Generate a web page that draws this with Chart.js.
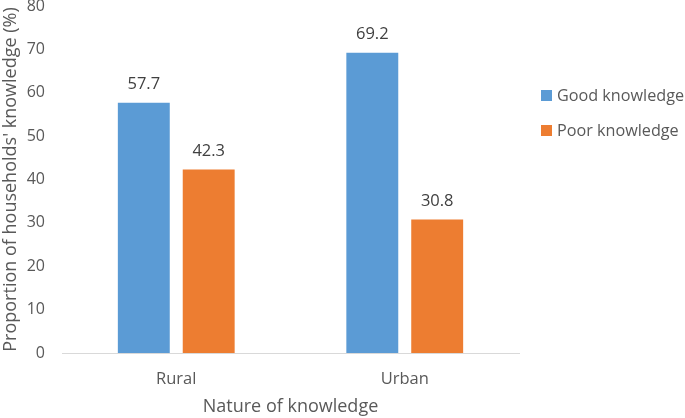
<!DOCTYPE html>
<html>
<head>
<meta charset="utf-8">
<script src="https://cdn.jsdelivr.net/npm/chart.js@4/dist/chart.umd.min.js"></script>
<style>
  body { margin: 0; background: #fff; }
  #wrap { position: relative; width: 685px; height: 418px; }
  #legend { position: absolute; left: 541px; top: 84px; font-family: "Open Sans", sans-serif; font-size: 16.2px; color: #595959; white-space: nowrap; }
  .item { display: flex; align-items: center; height: 22px; margin-bottom: 13px; }
  .box { width: 11px; height: 11px; margin-right: 5px; }
</style>
</head>
<body>
<div id="wrap">
  <canvas id="knowledgeChart" width="685" height="418"></canvas>
  <div id="legend"></div>
</div>
<script>
const categories = ['Rural', 'Urban'];
const goodKnowledge = [57.7, 69.2];
const poorKnowledge = [42.3, 30.8];
const seriesNames = ['Good knowledge', 'Poor knowledge'];
const seriesColors = ['#5B9BD5', '#ED7D31'];

// draws the value above each bar
const valueLabels = {
    id: 'valueLabels',
    afterDatasetsDraw(chart) {
        const ctx = chart.ctx;
        ctx.save();
        ctx.font = '16.5px "Open Sans", sans-serif';
        ctx.fillStyle = '#404040';
        ctx.textAlign = 'center';
        ctx.textBaseline = 'bottom';
        chart.data.datasets.forEach((ds, i) => {
            chart.getDatasetMeta(i).data.forEach((bar, j) => {
                ctx.fillText(ds.data[j].toFixed(1), bar.x, bar.y - 10);
            });
        });
        ctx.restore();
    }
};

const ctx = document.getElementById('knowledgeChart').getContext('2d');
const knowledgeChart = new Chart(ctx, {
    type: 'bar',
    data: {
        labels: categories,
        datasets: [
            { label: seriesNames[0], data: goodKnowledge, backgroundColor: seriesColors[0] },
            { label: seriesNames[1], data: poorKnowledge, backgroundColor: seriesColors[1] }
        ]
    },
    options: {
        responsive: false,
        animation: false,
        categoryPercentage: 0.568,
        barPercentage: 0.8,
        layout: { padding: { left: 0, right: 166, top: 0, bottom: 0 } },
        plugins: {
            legend: { display: false },
            tooltip: { enabled: false }
        },
        scales: {
            y: {
                min: 0,
                max: 80,
                ticks: { stepSize: 10, color: '#595959', font: { family: 'Open Sans', size: 16 }, padding: 17 },
                grid: { display: false, drawTicks: false },
                border: { display: false },
                title: {
                    display: true,
                    text: "Proportion of households' knowledge (%)",
                    color: '#595959',
                    font: { family: 'Open Sans', size: 18 },
                    padding: { top: 0, bottom: 5 }
                },
                // fixed box so the plot lines up with the original
                afterFit(scale) {
                    scale.width = 62;
                    scale.paddingTop = 6;
                    scale.paddingBottom = 0;
                }
            },
            x: {
                ticks: { color: '#595959', font: { family: 'Open Sans', size: 16.5 }, padding: 16 },
                grid: { display: false, drawTicks: false },
                border: { color: '#d9d9d9', width: 1 },
                title: {
                    display: true,
                    text: 'Nature of knowledge',
                    color: '#595959',
                    font: { family: 'Open Sans', size: 18 },
                    padding: { top: 7, bottom: 0 }
                },
                afterFit(scale) {
                    scale.height = 65;
                }
            }
        }
    },
    plugins: [valueLabels]
});

const legendEl = document.getElementById('legend');
seriesNames.forEach((name, i) => {
    const item = document.createElement('div');
    item.className = 'item';
    item.innerHTML = '<span class="box" style="background:' + seriesColors[i] + '"></span><span>' + name + '</span>';
    legendEl.appendChild(item);
});
</script>
</body>
</html>
